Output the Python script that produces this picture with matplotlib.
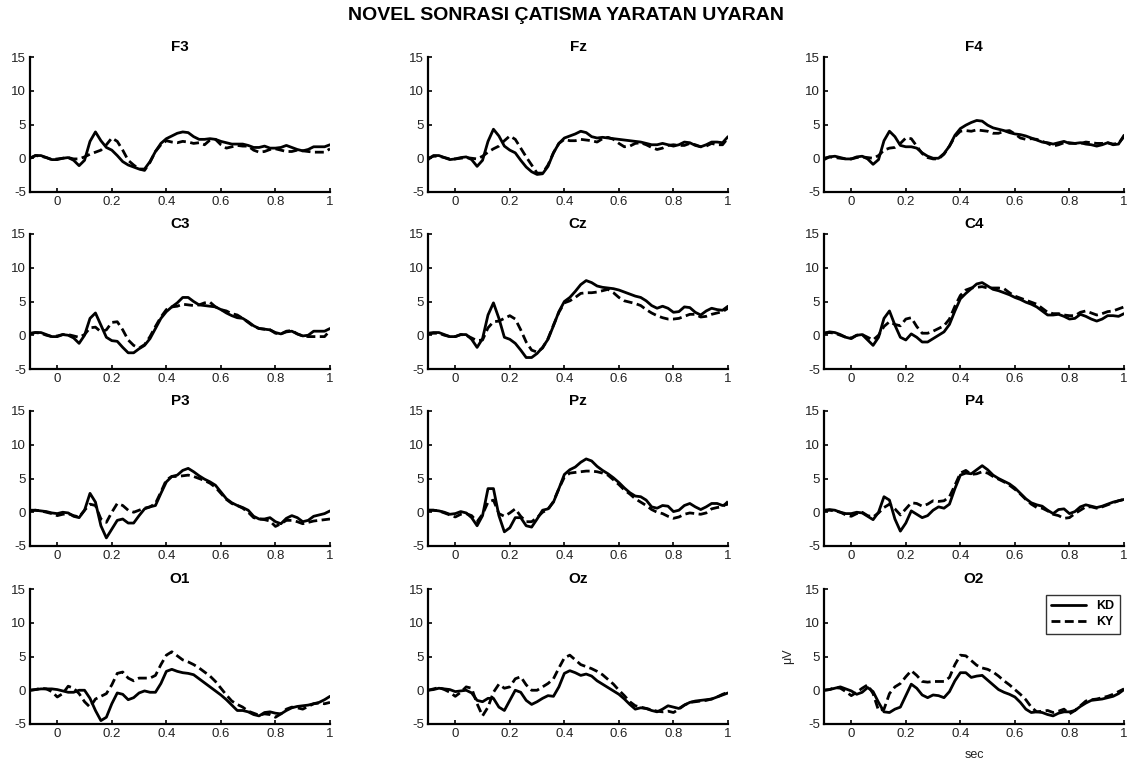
import numpy as np
import matplotlib
matplotlib.use("Agg")
import matplotlib.pyplot as plt

plt.rcParams['font.family'] = ['Liberation Sans', 'DejaVu Sans']

t = [-0.10, -0.08, -0.06, -0.04, -0.02, 0.00, 0.02, 0.04, 0.06, 0.08, 0.10, 0.12, 0.14, 0.16,
     0.18, 0.20, 0.22, 0.24, 0.26, 0.28, 0.30, 0.32, 0.34, 0.36, 0.38, 0.40, 0.42, 0.44,
     0.46, 0.48, 0.50, 0.52, 0.54, 0.56, 0.58, 0.60, 0.62, 0.64, 0.66, 0.68, 0.70, 0.72,
     0.74, 0.76, 0.78, 0.80, 0.82, 0.84, 0.86, 0.88, 0.90, 0.92, 0.94, 0.96, 0.98, 1.00]

channels = ['F3', 'Fz', 'F4', 'C3', 'Cz', 'C4', 'P3', 'Pz', 'P4', 'O1', 'Oz', 'O2']

F3_KD = [0, 0.4, 0.4, 0.1, -0.2, -0.2, 0, 0.1, -0.3, -1.1, -0.3, 2.5, 3.9, 2.6, 1.6, 1.2, 0.4, -0.5, -1.0, -1.3, -1.6, -1.6, -0.5, 1.0, 2.2, 2.9, 3.3, 3.7, 3.9, 3.8, 3.2, 2.8, 2.8, 2.9, 2.8, 2.5, 2.3, 2.1, 2.1, 2.1, 1.9, 1.6, 1.6, 1.8, 1.5, 1.5, 1.6, 1.9, 1.6, 1.3, 1.1, 1.3, 1.7, 1.7, 1.7, 2.0]
F3_KY = [0, 0.4, 0.3, 0.1, -0.2, -0.1, 0, 0.1, -0.1, -0.1, 0.2, 0.6, 0.9, 1.2, 2.0, 3.0, 2.5, 1.2, -0.3, -1.0, -1.6, -1.8, -0.6, 1.0, 2.0, 2.6, 2.4, 2.3, 2.5, 2.4, 2.2, 2.3, 2.0, 2.7, 2.8, 2.0, 1.5, 1.7, 1.9, 1.8, 1.8, 1.2, 0.9, 1.0, 1.3, 1.4, 1.2, 1.0, 1.0, 1.2, 1.1, 1.0, 0.9, 0.9, 0.9, 1.4]

Fz_KD = [-0.2, 0.4, 0.4, 0.1, -0.2, -0.1, 0.1, 0.2, -0.2, -1.2, -0.3, 2.5, 4.3, 3.3, 1.8, 1.2, 0.8, -0.3, -1.3, -2.0, -2.4, -2.3, -1.2, 0.8, 2.2, 3.0, 3.3, 3.6, 4.0, 3.8, 3.2, 3.0, 3.1, 3.0, 2.9, 2.8, 2.7, 2.6, 2.5, 2.4, 2.2, 2.0, 2.0, 2.2, 2.0, 1.8, 2.0, 2.4, 2.3, 1.9, 1.7, 2.0, 2.4, 2.4, 2.3, 3.2]
Fz_KY = [0, 0.3, 0.3, 0.1, -0.1, -0.1, 0, 0.1, 0, -0.1, 0.3, 0.9, 1.4, 1.8, 2.6, 3.3, 2.8, 1.5, 0.2, -1.0, -2.2, -2.2, -1.0, 0.8, 2.2, 2.8, 2.6, 2.6, 2.8, 2.7, 2.6, 2.4, 2.9, 3.1, 2.8, 2.2, 1.7, 1.8, 2.2, 2.3, 2.0, 1.6, 1.3, 1.5, 1.9, 2.0, 1.9, 1.9, 2.2, 2.0, 1.7, 1.8, 2.2, 2.0, 2.0, 3.0]

F4_KD = [0, 0.2, 0.3, 0.1, -0.1, -0.1, 0.2, 0.3, -0.1, -0.9, -0.2, 2.6, 4.0, 3.2, 1.9, 1.7, 1.7, 1.5, 0.8, 0.3, 0, 0, 0.7, 1.8, 3.4, 4.4, 4.9, 5.3, 5.6, 5.5, 4.9, 4.5, 4.3, 4.1, 3.8, 3.6, 3.5, 3.3, 3.0, 2.7, 2.4, 2.3, 2.1, 2.3, 2.5, 2.2, 2.2, 2.3, 2.1, 2.0, 1.8, 2.0, 2.3, 2.0, 2.1, 3.4]
F4_KY = [-0.2, 0.2, 0.1, 0, -0.1, -0.1, 0.1, 0.2, 0.1, 0, 0.4, 1.2, 1.5, 1.6, 2.2, 3.0, 2.9, 1.8, 0.7, 0.1, -0.1, -0.1, 0.6, 1.8, 3.2, 4.0, 4.1, 4.0, 4.2, 4.1, 4.0, 3.7, 3.7, 4.0, 4.1, 3.6, 3.0, 2.8, 2.9, 2.8, 2.5, 2.2, 1.8, 2.0, 2.3, 2.3, 2.2, 2.2, 2.4, 2.3, 2.2, 2.2, 2.3, 2.1, 2.2, 3.2]

C3_KD = [0.3, 0.4, 0.4, 0.1, -0.2, -0.2, 0.1, 0, -0.4, -1.2, 0, 2.5, 3.3, 1.5, -0.3, -0.8, -0.9, -1.8, -2.6, -2.6, -2.0, -1.5, -0.5, 1.0, 2.5, 3.5, 4.2, 4.8, 5.6, 5.6, 5.0, 4.5, 4.4, 4.3, 4.2, 3.8, 3.3, 2.9, 2.6, 2.5, 2.0, 1.4, 1.0, 0.9, 0.8, 0.4, 0.2, 0.5, 0.6, 0.2, -0.1, 0, 0.6, 0.6, 0.6, 1.0]
C3_KY = [0.2, 0.4, 0.3, 0, -0.2, -0.1, 0.1, 0.1, -0.1, -0.3, 0.1, 1.1, 1.2, 0.5, 0.8, 1.9, 2.0, 0.8, -0.7, -1.5, -1.9, -1.4, -0.2, 1.3, 2.7, 3.8, 4.2, 4.3, 4.6, 4.5, 4.4, 4.5, 4.8, 4.9, 4.2, 3.8, 3.6, 3.2, 3.0, 2.5, 1.9, 1.3, 1.0, 0.9, 0.8, 0.3, 0.2, 0.6, 0.7, 0.2, -0.1, -0.2, -0.2, -0.2, -0.2, 0.7]

Cz_KD = [0.3, 0.4, 0.4, 0.1, -0.2, -0.2, 0.1, 0.1, -0.6, -1.8, -0.5, 3.0, 4.8, 2.5, -0.3, -0.6, -1.2, -2.2, -3.3, -3.3, -2.7, -1.8, -0.6, 1.4, 3.5, 5.0, 5.6, 6.5, 7.5, 8.1, 7.8, 7.3, 7.1, 7.0, 6.9, 6.7, 6.4, 6.1, 5.8, 5.6, 5.1, 4.4, 4.0, 4.3, 4.0, 3.4, 3.5, 4.2, 4.1, 3.4, 3.0, 3.6, 4.0, 3.8, 3.7, 4.3]
Cz_KY = [0.2, 0.3, 0.3, 0, -0.2, -0.2, 0.1, 0, -0.4, -0.8, -0.7, 1.1, 2.0, 2.1, 2.5, 2.9, 2.4, 0.8, -1.0, -2.2, -2.5, -1.9, -0.5, 1.5, 3.4, 4.8, 5.1, 5.6, 6.2, 6.3, 6.3, 6.4, 6.6, 6.8, 6.3, 5.6, 5.1, 4.9, 4.7, 4.4, 3.8, 3.3, 2.9, 2.6, 2.4, 2.4, 2.5, 2.8, 3.1, 3.1, 2.7, 2.8, 3.1, 3.3, 3.5, 4.0]

C4_KD = [0.3, 0.5, 0.4, 0.1, -0.3, -0.5, 0, 0.1, -0.7, -1.5, -0.3, 2.5, 3.6, 1.5, -0.3, -0.7, 0.2, -0.3, -1.0, -1.0, -0.5, 0, 0.5, 1.6, 3.6, 5.4, 6.2, 6.9, 7.6, 7.8, 7.3, 6.8, 6.6, 6.3, 6.0, 5.6, 5.3, 4.9, 4.6, 4.2, 3.6, 3.0, 3.0, 3.1, 2.8, 2.4, 2.5, 3.1, 2.8, 2.4, 2.1, 2.4, 2.9, 2.9, 2.8, 3.2]
C4_KY = [0.3, 0.4, 0.3, 0, -0.3, -0.4, 0, 0.1, -0.3, -0.7, 0, 1.3, 2.0, 1.6, 1.4, 2.4, 2.6, 1.3, 0.3, 0.3, 0.6, 1.0, 1.4, 2.4, 4.3, 5.9, 6.7, 7.0, 7.1, 7.2, 7.0, 7.0, 7.0, 6.9, 6.3, 5.8, 5.5, 5.2, 4.9, 4.6, 4.0, 3.4, 3.2, 3.2, 3.0, 2.9, 2.9, 3.4, 3.6, 3.3, 3.0, 3.2, 3.5, 3.6, 3.9, 4.2]

P3_KD = [0.3, 0.3, 0.2, 0.1, -0.1, -0.2, 0, -0.1, -0.6, -0.8, 0.3, 2.8, 1.5, -2.0, -3.8, -2.5, -1.2, -1.0, -1.6, -1.6, -0.5, 0.5, 0.8, 1.0, 2.8, 4.5, 5.3, 5.5, 6.2, 6.5, 6.0, 5.4, 4.9, 4.5, 4.0, 3.0, 2.0, 1.4, 1.0, 0.7, 0.3, -0.6, -1.0, -1.0, -0.8, -1.4, -1.7, -0.9, -0.5, -0.8, -1.4, -1.2, -0.6, -0.4, -0.2, 0.2]
P3_KY = [0.2, 0.3, 0.2, 0, -0.2, -0.5, -0.3, -0.2, -0.5, -0.7, 0.3, 1.2, 1.0, -1.0, -1.5, 0, 1.3, 1.0, 0.3, 0, 0.3, 0.6, 0.8, 1.3, 3.0, 4.8, 5.3, 5.3, 5.4, 5.5, 5.3, 5.0, 4.7, 4.3, 3.7, 2.8, 1.9, 1.3, 1.0, 0.6, 0.0, -0.8, -1.0, -1.1, -1.3, -2.1, -1.7, -1.2, -1.2, -1.4, -1.7, -1.5, -1.3, -1.2, -1.1, -1.0]

Pz_KD = [0.3, 0.3, 0.2, 0, -0.3, -0.2, 0.1, -0.1, -0.8, -2.0, -0.5, 3.5, 3.5, -0.5, -2.9, -2.3, -0.8, -0.8, -2.0, -2.2, -1.0, 0.3, 0.5, 1.5, 3.5, 5.6, 6.3, 6.7, 7.4, 7.9, 7.6, 6.8, 6.2, 5.7, 5.1, 4.4, 3.6, 2.9, 2.4, 2.3, 1.8, 0.8, 0.6, 1.0, 0.9, 0.1, 0.3, 1.0, 1.3, 0.8, 0.4, 0.8, 1.3, 1.3, 1.0, 1.2]
Pz_KY = [0.3, 0.3, 0.2, -0.1, -0.4, -0.7, -0.3, -0.2, -0.5, -1.4, -0.3, 1.5, 1.8, -0.2, -0.6, -0.1, 0.5, -0.6, -1.4, -1.4, -0.8, 0, 0.4, 1.6, 3.5, 5.2, 5.8, 5.9, 6.0, 6.1, 6.1, 6.0, 5.8, 5.5, 4.8, 4.1, 3.3, 2.7, 2.0, 1.5, 1.0, 0.4, 0.0, -0.2, -0.6, -0.9, -0.7, -0.3, -0.1, -0.2, -0.3, -0.1, 0.5, 0.7, 0.8, 1.6]

P4_KD = [0.3, 0.4, 0.3, 0, -0.2, -0.2, 0, -0.1, -0.6, -1.1, 0, 2.3, 1.8, -1.0, -2.8, -1.6, 0.2, -0.3, -0.8, -0.5, 0.3, 0.8, 0.6, 1.2, 3.5, 5.5, 5.8, 5.7, 6.3, 6.9, 6.3, 5.5, 5.0, 4.6, 4.2, 3.6, 2.8, 2.0, 1.4, 1.1, 0.9, 0.3, -0.2, 0.4, 0.5, -0.2, 0.1, 0.8, 1.1, 0.9, 0.7, 0.9, 1.2, 1.5, 1.7, 1.9]
P4_KY = [0.2, 0.3, 0.2, 0, -0.4, -0.6, -0.2, 0, -0.5, -0.7, -0.1, 0.7, 1.2, 0.5, -0.4, 0.5, 1.4, 1.3, 0.9, 1.2, 1.7, 1.6, 1.7, 2.3, 4.0, 5.8, 6.2, 5.6, 5.7, 6.0, 5.8, 5.3, 4.9, 4.5, 4.0, 3.4, 2.7, 1.9, 1.2, 0.7, 0.6, 0.2, -0.3, -0.5, -0.9, -0.8, -0.2, 0.3, 0.8, 0.8, 0.6, 0.8, 1.1, 1.4, 1.7, 1.9]

O1_KD = [0, 0.1, 0.2, 0.2, 0.2, 0.1, -0.1, -0.3, -0.3, 0, 0, -1.2, -3.0, -4.5, -4.0, -2.0, -0.4, -0.6, -1.4, -1.1, -0.4, -0.1, -0.3, -0.3, 1.0, 2.8, 3.1, 2.8, 2.6, 2.5, 2.3, 1.7, 1.1, 0.5, -0.1, -0.7, -1.4, -2.2, -3.0, -3.0, -3.2, -3.6, -3.8, -3.3, -3.2, -3.4, -3.5, -3.0, -2.6, -2.4, -2.3, -2.2, -2.0, -1.8, -1.4, -0.9]
O1_KY = [0, 0.1, 0.3, 0.2, -0.2, -1.0, -0.5, 0.6, 0.3, -0.5, -1.7, -2.5, -1.3, -0.9, -0.5, 0.8, 2.5, 2.7, 1.8, 1.4, 1.8, 1.8, 1.8, 2.2, 3.8, 5.2, 5.7, 5.1, 4.5, 4.2, 3.8, 3.3, 2.7, 2.1, 1.3, 0.3, -0.7, -1.6, -2.1, -2.5, -3.1, -3.4, -3.7, -3.5, -3.6, -4.0, -3.5, -2.8, -2.5, -2.6, -2.8, -2.4, -2.0, -1.9, -2.0, -1.8]

Oz_KD = [0, 0.1, 0.3, 0.2, 0.1, -0.2, -0.1, 0, -0.4, -1.5, -1.7, -1.2, -1.2, -2.5, -3.0, -1.5, 0, -0.3, -1.5, -2.1, -1.7, -1.2, -0.8, -0.9, 0.5, 2.5, 2.9, 2.6, 2.2, 2.4, 2.1, 1.4, 0.9, 0.4, -0.1, -0.6, -1.3, -2.1, -2.8, -2.6, -2.7, -3.0, -3.2, -2.8, -2.3, -2.5, -2.7, -2.2, -1.8, -1.6, -1.5, -1.4, -1.3, -1.0, -0.7, -0.4]
Oz_KY = [0, 0.2, 0.4, 0.1, -0.3, -0.9, -0.3, 0.5, 0.3, -2.0, -3.8, -2.5, -0.3, 0.9, 0.3, 0.5, 1.7, 2.0, 0.8, 0, 0, 0.5, 1.0, 1.7, 3.3, 4.8, 5.2, 4.5, 3.8, 3.5, 3.2, 2.8, 2.3, 1.6, 0.9, 0.0, -0.8, -1.7, -2.3, -2.5, -2.7, -2.9, -3.1, -3.2, -3.1, -3.3, -2.8, -2.2, -1.8, -1.7, -1.6, -1.5, -1.3, -1.0, -0.6, -0.3]

O2_KD = [0, 0.1, 0.3, 0.5, 0.2, -0.1, -0.6, -0.3, 0.4, -0.2, -1.8, -3.2, -3.3, -2.8, -2.5, -0.8, 0.9, 0.3, -0.7, -1.1, -0.7, -0.8, -1.1, -0.2, 1.4, 2.6, 2.6, 1.9, 2.1, 2.2, 1.5, 0.8, 0.1, -0.3, -0.6, -1.0, -1.8, -2.8, -3.3, -3.2, -3.3, -3.6, -3.8, -3.4, -3.2, -3.2, -3.0, -2.4, -1.9, -1.5, -1.4, -1.3, -1.1, -0.9, -0.5, 0.1]
O2_KY = [0, 0.1, 0.4, 0.3, -0.2, -0.8, -0.3, 0.3, 0.8, -0.5, -3.0, -2.8, -0.5, 0.5, 1.0, 2.0, 2.9, 2.2, 1.3, 1.2, 1.3, 1.3, 1.3, 1.9, 3.8, 5.2, 5.1, 4.4, 3.7, 3.3, 3.1, 2.7, 2.1, 1.4, 0.8, 0.1, -0.6, -1.4, -2.5, -3.2, -3.1, -3.0, -3.3, -3.1, -2.8, -3.5, -3.0, -2.3, -1.6, -1.4, -1.3, -1.1, -0.9, -0.6, -0.2, 0.2]

kd_series = [F3_KD, Fz_KD, F4_KD, C3_KD, Cz_KD, C4_KD, P3_KD, Pz_KD, P4_KD, O1_KD, Oz_KD, O2_KD]
ky_series = [F3_KY, Fz_KY, F4_KY, C3_KY, Cz_KY, C4_KY, P3_KY, Pz_KY, P4_KY, O1_KY, Oz_KY, O2_KY]

xticks = [0, 0.2, 0.4, 0.6, 0.8, 1]
xticklabels = ['0', '0.2', '0.4', '0.6', '0.8', '1']
yticks = [-5, 0, 5, 10, 15]
yticklabels = ['-5', '0', '5', '10', '15']

W, H = 1131, 762
fig = plt.figure(figsize=(W / 100, H / 100), dpi=100)

col_left = [30, 428, 824]
ax_w = 300
row_top = [57, 234, 411, 589]
ax_h = 135

for i, name in enumerate(channels):
    r, c = divmod(i, 3)
    left = col_left[c] / W
    bottom = 1 - (row_top[r] + ax_h) / H
    ax = fig.add_axes([left, bottom, ax_w / W, ax_h / H])
    ax.plot(t, kd_series[i], color='black', lw=2.0, ls='-', label='KD',
            solid_joinstyle='round', solid_capstyle='round')
    ax.plot(t, ky_series[i], color='black', lw=2.0, ls=(0, (3.2, 1.6)), label='KY',
            dash_joinstyle='round')
    ax.set_xlim(-0.1, 1.0)
    ax.set_ylim(-5, 15)
    ax.set_xticks(xticks)
    ax.set_xticklabels(xticklabels)
    ax.set_yticks(yticks)
    ax.set_yticklabels(yticklabels)
    ax.spines['top'].set_visible(False)
    ax.spines['right'].set_visible(False)
    ax.spines['left'].set_linewidth(1.6)
    ax.spines['bottom'].set_linewidth(1.6)
    ax.tick_params(direction='in', length=3, width=1.2, labelsize=9.5, pad=3,
                   labelcolor='#222222')
    ax.set_title(name, fontsize=11, fontweight='bold', pad=4)
    if i == 11:
        ax.set_xlabel('sec', fontsize=9, labelpad=6, color='#222222')
        ax.set_ylabel('μV', fontsize=9, labelpad=8, color='#222222')
        leg = ax.legend(loc='upper right', bbox_to_anchor=(0.987, 0.958),
                        prop={'weight': 'bold', 'size': 9}, frameon=True, fancybox=False,
                        handlelength=2.8, borderpad=0.45, labelspacing=0.3, handletextpad=0.8,
                        borderaxespad=0.0)
        leg.get_frame().set_edgecolor('black')
        leg.get_frame().set_linewidth(1.0)

fig.text(0.5, 1 - 15 / H, 'NOVEL SONRASI ÇATISMA YARATAN UYARAN', ha='center', va='center',
         fontsize=14, fontweight='bold')

fig.savefig('out.png', dpi=100)
